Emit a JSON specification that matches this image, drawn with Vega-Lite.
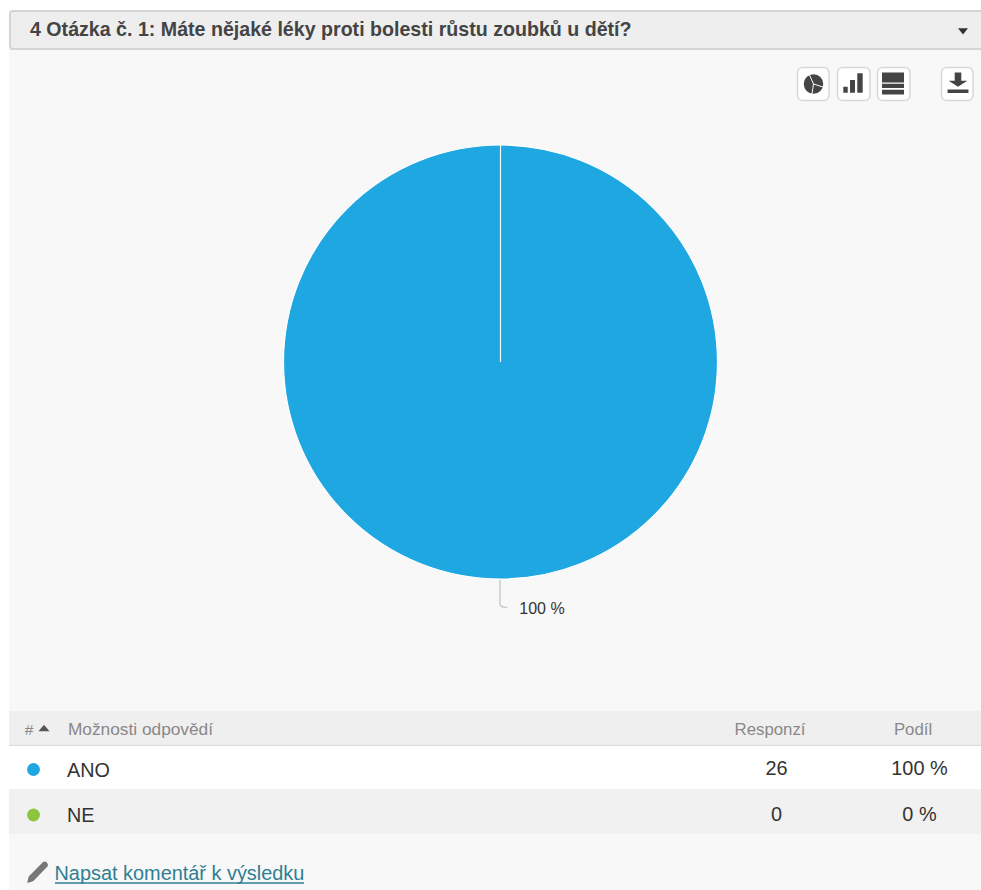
{
  "$schema": "https://vega.github.io/schema/vega-lite/v6.json",
  "width": 981,
  "height": 890,
  "autosize": {"type": "none"},
  "padding": 0,
  "background": "#ffffff",
  "view": {"stroke": null},
  "config": {"view": {"stroke": null}, "text": {"font": "Liberation Sans"}},
  "datasets": {
    "answers": [
      {"option": "ANO", "responses": 26, "share": "100 %"},
      {"option": "NE", "responses": 0, "share": "0 %"}
    ],
    "one": [{"part": "frame"}]
  },
  "data": {"name": "answers"},
  "resolve": {"scale": {"x": "independent", "y": "independent", "color": "independent"}},
  "layer": [
    {
      "data": {"name": "one"},
      "encoding": {
        "x": {"datum": 0, "type": "quantitative", "axis": null, "scale": {"domain": [0, 981], "nice": false, "zero": false}},
        "y": {"datum": 0, "type": "quantitative", "axis": null, "scale": {"domain": [890, 0], "nice": false, "zero": false}}
      },
      "layer": [
        {"mark": {"type": "rect", "color": "#f8f8f8"},
         "encoding": {"x": {"datum": 9}, "x2": {"datum": 981}, "y": {"datum": 48}, "y2": {"datum": 890}}},
        {"mark": {"type": "rect", "color": "#eeeeee", "stroke": "#d4d4d4", "strokeWidth": 2, "cornerRadius": 3},
         "encoding": {"x": {"datum": 10}, "x2": {"datum": 990}, "y": {"datum": 11}, "y2": {"datum": 49}}},
        {"mark": {"type": "text", "text": "4 Otázka č. 1: Máte nějaké léky proti bolesti růstu zoubků u dětí?", "align": "left", "baseline": "middle", "fontSize": 19.63, "fontWeight": "bold", "color": "#444444"},
         "encoding": {"x": {"datum": 30}, "y": {"datum": 30}}},
        {"mark": {"type": "point", "shape": "M-1,-0.55L1,-0.55L0,0.7Z", "size": 100, "filled": true, "color": "#333333", "opacity": 1},
         "encoding": {"x": {"datum": 963}, "y": {"datum": 31}}},

        {"mark": {"type": "rect", "color": "#ffffff", "stroke": "#d8d8d8", "strokeWidth": 1.5, "cornerRadius": 5},
         "encoding": {"x": {"datum": 797.5}, "x2": {"datum": 829}, "y": {"datum": 67.5}, "y2": {"datum": 100.5}}},
        {"mark": {"type": "rect", "color": "#ffffff", "stroke": "#d8d8d8", "strokeWidth": 1.5, "cornerRadius": 5},
         "encoding": {"x": {"datum": 837.5}, "x2": {"datum": 870}, "y": {"datum": 67.5}, "y2": {"datum": 100.5}}},
        {"mark": {"type": "rect", "color": "#ffffff", "stroke": "#d8d8d8", "strokeWidth": 1.5, "cornerRadius": 5},
         "encoding": {"x": {"datum": 877.5}, "x2": {"datum": 910}, "y": {"datum": 67.5}, "y2": {"datum": 100.5}}},
        {"mark": {"type": "rect", "color": "#ffffff", "stroke": "#d8d8d8", "strokeWidth": 1.5, "cornerRadius": 5},
         "encoding": {"x": {"datum": 941.5}, "x2": {"datum": 973}, "y": {"datum": 67.5}, "y2": {"datum": 100.5}}},

        {"mark": {"type": "point", "shape": "circle", "size": 380, "filled": true, "color": "#444444", "opacity": 1},
         "encoding": {"x": {"datum": 813.5}, "y": {"datum": 84}}},
        {"mark": {"type": "point", "shape": "M0,0L-0.4,-0.9M0,0L0.95,0.3M0,0L-0.15,0.95", "size": 484, "filled": false, "stroke": "#ffffff", "strokeWidth": 1, "opacity": 1},
         "encoding": {"x": {"datum": 813.5}, "y": {"datum": 84}}},
        {"mark": {"type": "point", "shape": "M-0.88,0.24H-0.48V0.79H-0.88ZM-0.27,-0.36H0.18V0.79H-0.27ZM0.39,-0.97H0.88V0.79H0.39Z", "size": 484, "filled": true, "color": "#444444", "opacity": 1},
         "encoding": {"x": {"datum": 853}, "y": {"datum": 84}}},
        {"mark": {"type": "point", "shape": "M-1,-1H1V-0.1H-1ZM-1,0.03H1V0.42H-1ZM-1,0.57H1V1H-1Z", "size": 484, "filled": true, "color": "#444444", "opacity": 1},
         "encoding": {"x": {"datum": 893}, "y": {"datum": 83.5}}},
        {"mark": {"type": "point", "shape": "M-0.3,-0.95H0.3V-0.2H0.85L0,0.35L-0.85,-0.2H-0.3ZM-0.95,0.6H0.95V0.9H-0.95Z", "size": 484, "filled": true, "color": "#444444", "opacity": 1},
         "encoding": {"x": {"datum": 958}, "y": {"datum": 83}}},

        {"mark": {"type": "point", "shape": "M-0.29,-1L-0.29,0.7Q-0.29,0.97 0.25,0.97", "size": 784, "filled": false, "stroke": "#cccccc", "strokeWidth": 1.5, "opacity": 1},
         "encoding": {"x": {"datum": 504}, "y": {"datum": 594}}},

        {"mark": {"type": "rect", "color": "#efefef"},
         "encoding": {"x": {"datum": 9}, "x2": {"datum": 981}, "y": {"datum": 711}, "y2": {"datum": 745}}},
        {"mark": {"type": "rule", "color": "#dddddd", "strokeWidth": 1.5},
         "encoding": {"x": {"datum": 9}, "x2": {"datum": 981}, "y": {"datum": 745.5}}},
        {"mark": {"type": "rect", "color": "#ffffff"},
         "encoding": {"x": {"datum": 9}, "x2": {"datum": 981}, "y": {"datum": 746}, "y2": {"datum": 789}}},
        {"mark": {"type": "rect", "color": "#f1f1f1"},
         "encoding": {"x": {"datum": 9}, "x2": {"datum": 981}, "y": {"datum": 789}, "y2": {"datum": 834}}},

        {"mark": {"type": "text", "text": "#", "fontSize": 15.5, "color": "#888888", "baseline": "middle"},
         "encoding": {"x": {"datum": 29}, "y": {"datum": 729.5}}},
        {"mark": {"type": "point", "shape": "M-1,0.6L0,-0.6L1,0.6Z", "size": 121, "filled": true, "color": "#555555", "opacity": 1},
         "encoding": {"x": {"datum": 44}, "y": {"datum": 728}}},
        {"mark": {"type": "text", "text": "Možnosti odpovědí", "fontSize": 17.3, "color": "#888888", "baseline": "middle"},
         "encoding": {"x": {"datum": 140.5}, "y": {"datum": 729.5}}},
        {"mark": {"type": "text", "text": "Responzí", "fontSize": 16.8, "color": "#888888", "baseline": "middle"},
         "encoding": {"x": {"datum": 770}, "y": {"datum": 729.5}}},
        {"mark": {"type": "text", "text": "Podíl", "fontSize": 16.8, "color": "#888888", "baseline": "middle"},
         "encoding": {"x": {"datum": 913}, "y": {"datum": 729.5}}},

        {"mark": {"type": "point", "shape": "M-0.9,1L-0.75,0.4L0.55,-0.9Q0.7,-1 0.85,-0.9L1,-0.7Q1,-0.6 0.95,-0.5L-0.35,0.85Z", "size": 484, "filled": true, "color": "#777777", "opacity": 1},
         "encoding": {"x": {"datum": 37}, "y": {"datum": 872}}},
        {"mark": {"type": "text", "text": "Napsat komentář k výsledku", "align": "left", "baseline": "middle", "fontSize": 19.9, "color": "#2f7f93"},
         "encoding": {"x": {"datum": 54.5}, "y": {"datum": 873.5}}},
        {"mark": {"type": "rule", "color": "#2f7f93", "strokeWidth": 1.5},
         "encoding": {"x": {"datum": 55}, "x2": {"datum": 304}, "y": {"datum": 883}}}
      ]
    },
    {
      "mark": {"type": "arc", "radius": 217, "stroke": "#ffffff", "strokeWidth": 1.2},
      "encoding": {
        "theta": {"field": "responses", "type": "quantitative", "stack": true},
        "order": {"field": "responses", "sort": "descending"},
        "color": {"field": "option", "type": "nominal", "legend": null, "scale": {"domain": ["ANO", "NE"], "range": ["#1ea7e1", "#8cc63f"]}},
        "x": {"datum": 500.5, "type": "quantitative", "axis": null, "scale": {"domain": [0, 981], "nice": false, "zero": false}},
        "y": {"datum": 362, "type": "quantitative", "axis": null, "scale": {"domain": [890, 0], "nice": false, "zero": false}}
      }
    },
    {
      "transform": [{"filter": "datum.responses > 0"}],
      "mark": {"type": "text", "fontSize": 16, "color": "#333333", "baseline": "middle"},
      "encoding": {
        "text": {"field": "share"},
        "x": {"datum": 542, "type": "quantitative", "axis": null, "scale": {"domain": [0, 981], "nice": false, "zero": false}},
        "y": {"datum": 608.5, "type": "quantitative", "axis": null, "scale": {"domain": [890, 0], "nice": false, "zero": false}}
      }
    },
    {
      "mark": {"type": "point", "filled": true, "size": 165, "opacity": 1},
      "encoding": {
        "color": {"field": "option", "type": "nominal", "legend": null, "scale": {"domain": ["ANO", "NE"], "range": ["#1ea7e1", "#8cc63f"]}},
        "x": {"datum": 33.5, "type": "quantitative", "axis": null, "scale": {"domain": [0, 981], "nice": false, "zero": false}},
        "y": {"field": "option", "type": "nominal", "axis": null, "scale": {"type": "point", "padding": 0, "domain": ["ANO", "NE"], "range": [769.5, 815]}}
      }
    },
    {
      "mark": {"type": "text", "fontSize": 19.8, "color": "#333333", "align": "left", "baseline": "middle"},
      "encoding": {
        "text": {"field": "option"},
        "x": {"datum": 67, "type": "quantitative", "axis": null, "scale": {"domain": [0, 981], "nice": false, "zero": false}},
        "y": {"field": "option", "type": "nominal", "axis": null, "scale": {"type": "point", "padding": 0, "domain": ["ANO", "NE"], "range": [770.5, 816]}}
      }
    },
    {
      "mark": {"type": "text", "fontSize": 19.9, "color": "#333333", "baseline": "middle"},
      "encoding": {
        "text": {"field": "responses", "type": "quantitative"},
        "x": {"datum": 776.5, "type": "quantitative", "axis": null, "scale": {"domain": [0, 981], "nice": false, "zero": false}},
        "y": {"field": "option", "type": "nominal", "axis": null, "scale": {"type": "point", "padding": 0, "domain": ["ANO", "NE"], "range": [769, 815]}}
      }
    },
    {
      "mark": {"type": "text", "fontSize": 19.9, "color": "#333333", "baseline": "middle"},
      "encoding": {
        "text": {"field": "share"},
        "x": {"datum": 919.5, "type": "quantitative", "axis": null, "scale": {"domain": [0, 981], "nice": false, "zero": false}},
        "y": {"field": "option", "type": "nominal", "axis": null, "scale": {"type": "point", "padding": 0, "domain": ["ANO", "NE"], "range": [769, 815]}}
      }
    }
  ]
}
